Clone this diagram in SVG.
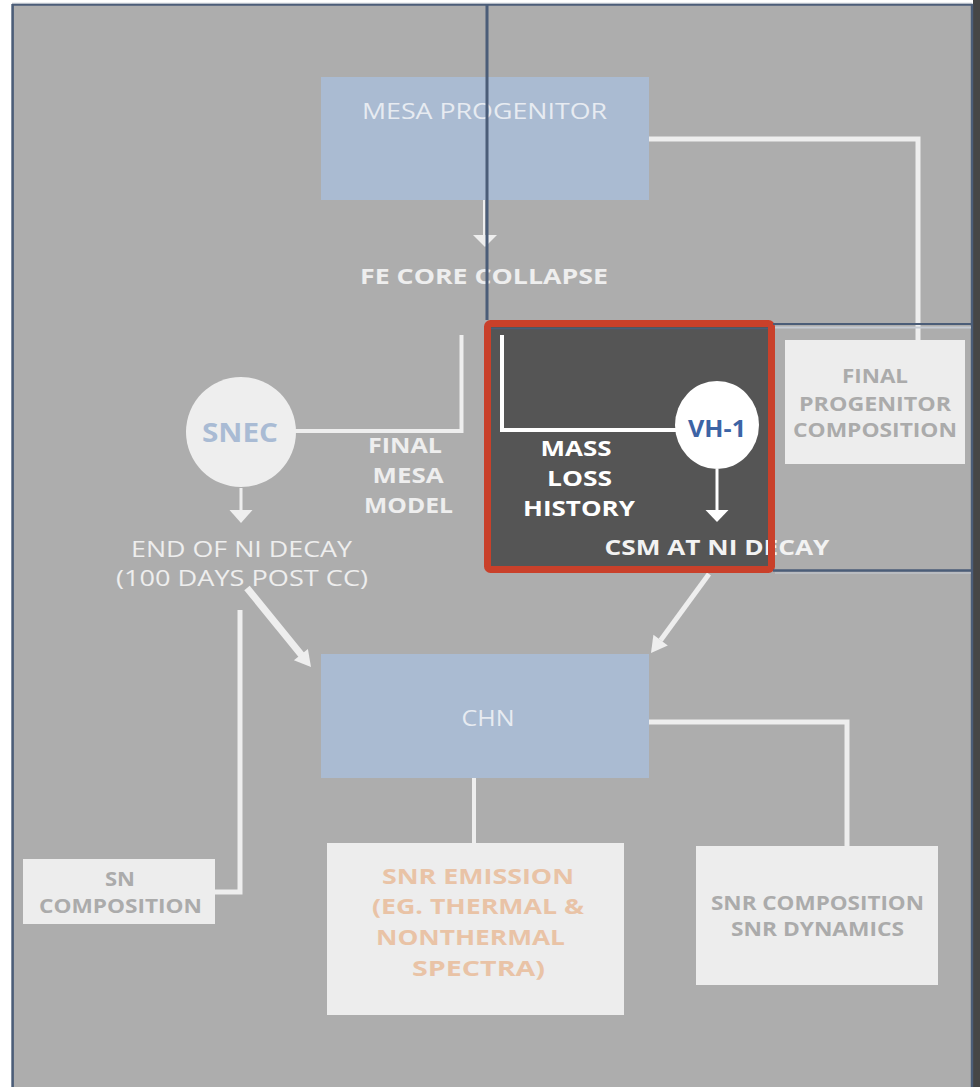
<svg xmlns="http://www.w3.org/2000/svg" width="980" height="1087" viewBox="0 0 980 1087">
  <style>
    .lbl { font-family: "Open Sans", "Liberation Sans", sans-serif; text-anchor: middle; }
    .reg { font-weight: 400; }
    .bold { font-weight: 700; }
    .light { fill: #eeeeee; }
    .grey { fill: #ababab; }
    .peach { fill: #e9c3a6; }
    .wire { fill: none; stroke: #eeeeee; stroke-linecap: butt; stroke-linejoin: miter; }
    .head { fill: #eeeeee; }
    .frame { stroke: #4b5d78; fill: none; }
    .card { fill: #ededed; }
    .step { fill: #aabbd2; }
  </style>

  <!-- canvas -->
  <rect x="0" y="0" width="980" height="1087" fill="#ffffff"/>
  <rect x="13" y="5" width="960" height="1082" fill="#adadad"/>
  <rect x="973" y="0" width="7" height="1087" fill="#464646"/>
  <line x1="12" y1="3.2" x2="972" y2="3.2" stroke="#c9ced6" stroke-width="1"/>
  <line x1="12" y1="4.8" x2="973" y2="4.8" class="frame" stroke-width="2"/>
  <line x1="12.6" y1="4" x2="12.6" y2="1087" class="frame" stroke-width="2.6"/>
  <line x1="972" y1="4" x2="972" y2="1087" class="frame" stroke-width="2.4"/>

  <!-- connectors -->
  <g id="connectors">
    <!-- MESA progenitor to final progenitor composition -->
    <polyline class="wire" stroke-width="5" points="649,139 918,139 918,340"/>
    <!-- MESA progenitor to Fe core collapse -->
    <line class="wire" x1="484" y1="200" x2="484" y2="236" stroke-width="2"/>
    <polygon class="head" points="473,235 497,235 485,247"/>
    <!-- Fe core collapse to SNEC -->
    <polyline class="wire" stroke-width="4" points="461.5,335 461.5,431 295,431"/>
    <!-- SNEC to end of Ni decay -->
    <line class="wire" x1="241" y1="488" x2="241" y2="511" stroke-width="3"/>
    <polygon class="head" points="229.5,510 252.5,510 241,523"/>
    <!-- end of Ni decay to CHN -->
    <line class="wire" x1="247" y1="588" x2="301.5" y2="655" stroke-width="7"/>
    <polygon class="head" points="293.9,660.3 307.9,648.9 311,667"/>
    <!-- CSM to CHN -->
    <line class="wire" x1="709" y1="574" x2="660.6" y2="640.2" stroke-width="5"/>
    <polygon class="head" points="653.4,634.8 667.8,645.6 651,653"/>
    <!-- end of Ni decay to SN composition -->
    <polyline class="wire" stroke-width="5" points="240,610 240,892 215,892"/>
    <!-- CHN to SNR emission -->
    <line class="wire" x1="474" y1="778" x2="474" y2="843" stroke-width="4"/>
    <!-- CHN to SNR composition / dynamics -->
    <polyline class="wire" stroke-width="5" points="649,722 847,722 847,846"/>
  </g>

  <!-- nodes -->
  <g id="mesa-progenitor">
    <rect class="step" x="321" y="77" width="328" height="123"/>
    <text class="lbl reg" x="484.5" y="119" font-size="22" fill="#e7ebf1" textLength="245" lengthAdjust="spacingAndGlyphs">MESA PROGENITOR</text>
  </g>

  <g id="fe-core-collapse">
    <text class="lbl bold light" x="484" y="284" font-size="22" textLength="248" lengthAdjust="spacingAndGlyphs">FE CORE COLLAPSE</text>
  </g>

  <g id="snec">
    <circle cx="241" cy="432" r="55" fill="#eeeeee"/>
    <text class="lbl bold" x="240" y="442" font-size="26" fill="#a9bbd4" textLength="76" lengthAdjust="spacingAndGlyphs">SNEC</text>
  </g>

  <g id="final-mesa-model">
    <text class="lbl bold light" x="405" y="453" font-size="22" textLength="74" lengthAdjust="spacingAndGlyphs">FINAL</text>
    <text class="lbl bold light" x="408" y="483" font-size="22" textLength="71" lengthAdjust="spacingAndGlyphs">MESA</text>
    <text class="lbl bold light" x="408.5" y="513" font-size="22" textLength="89" lengthAdjust="spacingAndGlyphs">MODEL</text>
  </g>

  <g id="end-of-ni-decay">
    <text class="lbl reg light" x="241.5" y="557" font-size="22" textLength="221" lengthAdjust="spacingAndGlyphs">END OF NI DECAY</text>
    <text class="lbl reg light" x="242" y="586" font-size="22" textLength="252" lengthAdjust="spacingAndGlyphs">(100 DAYS POST CC)</text>
  </g>

  <g id="vh1-panel">
    <rect x="487.5" y="323.5" width="284" height="246" fill="#555555"/>
    <line x1="491" y1="328.5" x2="768" y2="328.5" stroke="#4b5d78" stroke-width="1.5"/>
    <polyline fill="none" stroke="#ffffff" stroke-width="4" points="502,335 502,430 676,430"/>
    <line x1="717" y1="469" x2="717" y2="511" stroke="#ffffff" stroke-width="3"/>
    <polygon fill="#ffffff" points="705.5,510 728.5,510 717,522"/>
    <ellipse cx="717" cy="425" rx="42" ry="44" fill="#ffffff"/>
    <text class="lbl bold" x="717" y="437" font-size="23" fill="#3d64a5" textLength="58" lengthAdjust="spacingAndGlyphs">VH-1</text>
    <text class="lbl bold" x="576" y="456" font-size="22" fill="#ffffff" textLength="71" lengthAdjust="spacingAndGlyphs">MASS</text>
    <text class="lbl bold" x="579.5" y="486" font-size="22" fill="#ffffff" textLength="65" lengthAdjust="spacingAndGlyphs">LOSS</text>
    <text class="lbl bold" x="579" y="516" font-size="22" fill="#ffffff" textLength="112" lengthAdjust="spacingAndGlyphs">HISTORY</text>
    <text class="lbl bold" x="717" y="555" font-size="22" fill="#f2f2f2" textLength="225" lengthAdjust="spacingAndGlyphs">CSM AT NI DECAY</text>
    <rect x="487.5" y="323.5" width="284" height="246" rx="3" fill="none" stroke="#c9402a" stroke-width="7"/>
  </g>

  <g id="final-progenitor-composition">
    <rect class="card" x="785" y="340" width="180" height="124"/>
    <text class="lbl bold grey" x="875" y="383" font-size="20" textLength="66" lengthAdjust="spacingAndGlyphs">FINAL</text>
    <text class="lbl bold grey" x="875" y="411" font-size="20" textLength="152" lengthAdjust="spacingAndGlyphs">PROGENITOR</text>
    <text class="lbl bold grey" x="875" y="437" font-size="20" textLength="164" lengthAdjust="spacingAndGlyphs">COMPOSITION</text>
  </g>

  <g id="chn">
    <rect class="step" x="321" y="654" width="328" height="124"/>
    <text class="lbl reg" x="488" y="726" font-size="22" fill="#e7ebf1" textLength="53" lengthAdjust="spacingAndGlyphs">CHN</text>
  </g>

  <g id="sn-composition">
    <rect class="card" x="23" y="859" width="192" height="65"/>
    <text class="lbl bold grey" x="120" y="886" font-size="20" textLength="30" lengthAdjust="spacingAndGlyphs">SN</text>
    <text class="lbl bold grey" x="120.5" y="913" font-size="20" textLength="163" lengthAdjust="spacingAndGlyphs">COMPOSITION</text>
  </g>

  <g id="snr-emission">
    <rect class="card" x="327" y="843" width="297" height="172"/>
    <text class="lbl bold peach" x="478" y="884" font-size="22" textLength="192" lengthAdjust="spacingAndGlyphs">SNR EMISSION</text>
    <text class="lbl bold peach" x="478" y="914" font-size="22" textLength="212" lengthAdjust="spacingAndGlyphs">(EG. THERMAL &amp;</text>
    <text class="lbl bold peach" x="470.5" y="945" font-size="22" textLength="189" lengthAdjust="spacingAndGlyphs">NONTHERMAL</text>
    <text class="lbl bold peach" x="478.5" y="976" font-size="22" textLength="133" lengthAdjust="spacingAndGlyphs">SPECTRA)</text>
  </g>

  <g id="snr-composition">
    <rect class="card" x="696" y="846" width="242" height="139"/>
    <text class="lbl bold grey" x="817.5" y="910" font-size="20" textLength="213" lengthAdjust="spacingAndGlyphs">SNR COMPOSITION</text>
    <text class="lbl bold grey" x="817.5" y="936" font-size="20" textLength="173" lengthAdjust="spacingAndGlyphs">SNR DYNAMICS</text>
  </g>

  <!-- highlight frame lines drawn over the chart -->
  <g id="highlight-frame">
    <line x1="487" y1="4" x2="487" y2="320" class="frame" stroke-width="3"/>
    <line x1="773" y1="324" x2="972" y2="324" class="frame" stroke-width="2"/>
    <line x1="775" y1="327.5" x2="971" y2="327.5" stroke="#c6cbd3" stroke-width="2"/>
    <line x1="773" y1="570.5" x2="972" y2="570.5" class="frame" stroke-width="2.5"/>
    <line x1="775" y1="573" x2="971" y2="573" stroke="#c6cbd3" stroke-width="1"/>
  </g>
</svg>
